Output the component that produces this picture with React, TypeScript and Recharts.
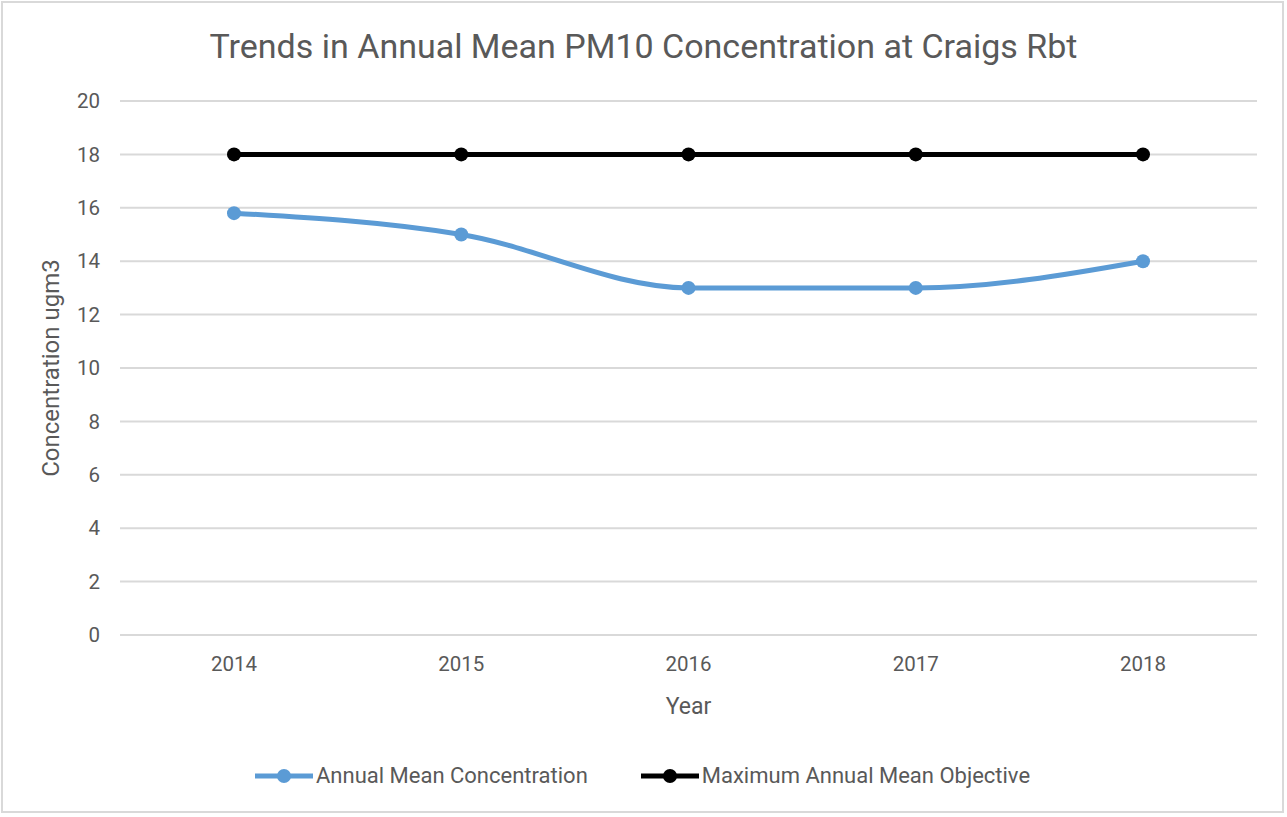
import React from 'react'
import { LineChart, Line, XAxis, YAxis, CartesianGrid } from 'recharts'

const years = ['2014', '2015', '2016', '2017', '2018']
const annualMean = [15.8, 15, 13, 13, 14]
const objective = [18, 18, 18, 18, 18]
const yTicks = [0, 2, 4, 6, 8, 10, 12, 14, 16, 18, 20]

const seriesNames = ['Annual Mean Concentration', 'Maximum Annual Mean Objective']
const seriesColors = ['#5b9bd5', '#000000']

const data = years.map((y, i) => ({
  year: y,
  mean: annualMean[i],
  objective: objective[i],
}))

const font = 'Roboto, "Open Sans", sans-serif'
const textColor = '#595959'

export default function App() {
  return (
    <div
      style={{
        position: 'absolute',
        left: 0,
        top: 0,
        width: 1287,
        height: 817,
        background: '#fff',
        fontFamily: font,
      }}
    >
      <div
        style={{
          position: 'absolute',
          left: 1,
          top: 1,
          width: 1283,
          height: 812,
          border: '2px solid #d9d9d9',
          boxSizing: 'border-box',
        }}
      />
      <div
        style={{
          position: 'absolute',
          top: 26,
          left: 0,
          width: 1287,
          textAlign: 'center',
          fontSize: 34,
          lineHeight: '40px',
          color: textColor,
        }}
      >
        Trends in Annual Mean PM10 Concentration at Craigs Rbt
      </div>
      <LineChart
        width={1287}
        height={817}
        data={data}
        margin={{ top: 101, right: 30, bottom: 0, left: 0 }}
        style={{ position: 'absolute', left: 0, top: 0 }}
      >
        <CartesianGrid vertical={false} stroke="#d9d9d9" strokeWidth={2} />
        <XAxis
          dataKey="year"
          axisLine={false}
          tickLine={false}
          tickSize={0}
          tickMargin={21}
          height={182}
          padding={{ left: 114, right: 114 }}
          tick={{ fill: textColor, fontSize: 20.5, fontFamily: font }}
          label={{ value: 'Year', position: 'insideTop', offset: 63, fill: textColor, fontSize: 23, fontFamily: font }}
        />
        <YAxis
          domain={[0, 20]}
          ticks={yTicks}
          axisLine={false}
          tickLine={false}
          tickSize={0}
          tickMargin={20}
          width={120}
          tick={{ fill: textColor, fontSize: 20.5, fontFamily: font }}
          label={{
            value: 'Concentration ugm3',
            angle: -90,
            position: 'insideLeft',
            offset: 50,
            fill: textColor,
            fontSize: 24,
            fontFamily: font,
            style: { textAnchor: 'middle' },
          }}
        />
        <Line
          dataKey="mean"
          type="monotone"
          stroke={seriesColors[0]}
          strokeWidth={5}
          dot={{ r: 7, fill: seriesColors[0], stroke: seriesColors[0], strokeWidth: 0 }}
          isAnimationActive={false}
        />
        <Line
          dataKey="objective"
          type="linear"
          stroke={seriesColors[1]}
          strokeWidth={5}
          dot={{ r: 7, fill: seriesColors[1], stroke: seriesColors[1], strokeWidth: 0 }}
          isAnimationActive={false}
        />
      </LineChart>
      <div
        style={{
          position: 'absolute',
          top: 763,
          left: 255,
          display: 'flex',
          alignItems: 'center',
          fontSize: 22,
          color: textColor,
        }}
      >
        {seriesNames.map((name, i) => (
          <div key={name} style={{ display: 'flex', alignItems: 'center', marginRight: i === 0 ? 53 : 0 }}>
            <svg width={58} height={20} style={{ marginRight: 3 }}>
              <line x1={0} y1={10} x2={58} y2={10} stroke={seriesColors[i]} strokeWidth={5} />
              <circle cx={29} cy={10} r={7} fill={seriesColors[i]} />
            </svg>
            <span>{name}</span>
          </div>
        ))}
      </div>
    </div>
  )
}
